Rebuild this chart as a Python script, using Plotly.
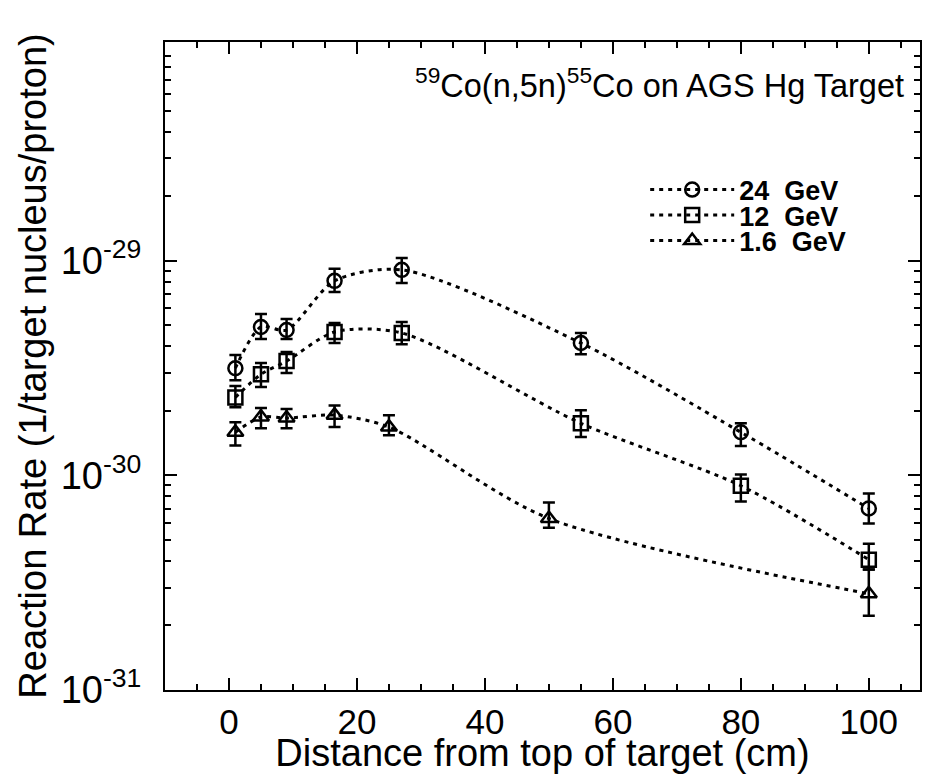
import plotly.graph_objects as go

# ---- data ----
x_24 = [1, 5, 9, 16.5, 27, 55, 80, 100]
y_24 = [3.16e-30, 4.92e-30, 4.76e-30, 8.07e-30, 9.08e-30, 4.14e-30, 1.59e-30, 7.01e-31]
hi_24 = [3.64e-30, 5.65e-30, 5.36e-30, 9.18e-30, 1.03e-29, 4.61e-30, 1.75e-30, 8.24e-31]
lo_24 = [2.78e-30, 4.32e-30, 4.32e-30, 7.16e-30, 7.89e-30, 3.67e-30, 1.37e-30, 5.97e-31]

x_12 = [1, 5, 9, 16.5, 27, 55, 80, 100]
y_12 = [2.31e-30, 2.96e-30, 3.41e-30, 4.66e-30, 4.61e-30, 1.75e-30, 8.95e-31, 4.05e-31]
hi_12 = [2.61e-30, 3.34e-30, 3.76e-30, 5.13e-30, 5.19e-30, 2.01e-30, 1.01e-30, 4.81e-31]
lo_12 = [2.08e-30, 2.58e-30, 3.00e-30, 4.14e-30, 4.09e-30, 1.51e-30, 7.56e-31, 3.64e-31]

x_16 = [1, 5, 9, 16.5, 25, 50, 100]
y_16 = [1.59e-30, 1.87e-30, 1.85e-30, 1.91e-30, 1.68e-30, 6.30e-31, 2.81e-31]
hi_16 = [1.77e-30, 2.06e-30, 2.04e-30, 2.12e-30, 1.91e-30, 7.48e-31, 3.64e-31]
lo_16 = [1.38e-30, 1.66e-30, 1.66e-30, 1.68e-30, 1.54e-30, 5.71e-31, 2.22e-31]

series = [
    ("<b>24\u00a0\u00a0GeV</b>", x_24, y_24, hi_24, lo_24, "circle-open", "legend"),
    ("<b>12\u00a0\u00a0GeV</b>", x_12, y_12, hi_12, lo_12, "square-open", "legend2"),
    ("<b>1.6\u00a0\u00a0GeV</b>", x_16, y_16, hi_16, lo_16, "triangle-up-open", "legend3"),
]

y_tickvals = [1e-31, 1e-30, 1e-29]
y_ticktext = ["10<sup>-31</sup>", "10<sup>-30</sup>", "10<sup>-29</sup>"]

FONT = "Liberation Sans, Arial, Helvetica, sans-serif"

fig = go.Figure()
for name, xs, ys, his, los, sym, lg in series:
    fig.add_trace(go.Scatter(
        x=xs, y=ys, name=name, mode="lines+markers", legend=lg,
        line=dict(color="black", width=3, dash="4px,5px", shape="spline", smoothing=0.8),
        marker=dict(symbol=sym, size=14, color="black", line=dict(width=2.5, color="black")),
        error_y=dict(type="data", symmetric=False,
                     array=[h - v for h, v in zip(his, ys)],
                     arrayminus=[v - l for v, l in zip(ys, los)],
                     color="black", thickness=2.5, width=6),
    ))

minor_y = [k * 10.0 ** e for e in (-31, -30, -29, -28) for k in range(2, 10)]

legend_common = dict(font=dict(family=FONT, size=27, color="black"),
                     bgcolor="rgba(0,0,0,0)", borderwidth=0, itemwidth=84,
                     xanchor="left", yanchor="middle", x=0.636)

fig.update_layout(
    template="none",
    width=925, height=774,
    margin=dict(l=165, r=5, t=42, b=84, autoexpand=False),
    paper_bgcolor="white", plot_bgcolor="white",
    font=dict(family=FONT, color="black"),
    showlegend=True,
    legend=dict(**legend_common, y=(690 - 190) / 648),
    legend2=dict(**legend_common, y=(690 - 215.5) / 648),
    legend3=dict(**legend_common, y=(690 - 241) / 648),
    xaxis=dict(
        range=[-10, 108], showgrid=False, zeroline=False, automargin=False,
        showline=True, linecolor="black", linewidth=2, mirror="ticks",
        ticks="inside", ticklen=12, tickwidth=2, tickcolor="black",
        tickmode="linear", tick0=0, dtick=20,
        minor=dict(ticks="inside", ticklen=6, tickwidth=2, tickcolor="black", dtick=5, showgrid=False),
        tickfont=dict(family=FONT, size=35, color="black"),
        title=dict(text="Distance from top of target (cm)", font=dict(family=FONT, size=38, color="black"), standoff=6),
    ),
    yaxis=dict(
        type="log", range=[-31, -27.98], showgrid=False, zeroline=False, automargin=False,
        showline=True, linecolor="black", linewidth=2, mirror="ticks",
        ticks="inside", ticklen=12, tickwidth=2, tickcolor="black",
        tickmode="array", tickvals=y_tickvals, ticktext=y_ticktext,
        ticklabelstandoff=14,
        minor=dict(ticks="inside", ticklen=6, tickwidth=2, tickcolor="black", tickvals=minor_y, showgrid=False),
        tickfont=dict(family=FONT, size=38, color="black"),
        title=dict(text="Reaction Rate (1/target nucleus/proton)", font=dict(family=FONT, size=38, color="black"), standoff=2),
    ),
    annotations=[dict(
        text="<sup>59</sup>Co(n,5n)<sup>55</sup>Co on AGS Hg Target",
        xref="paper", yref="paper", x=(906 - 165) / 755, y=(690 - 83) / 648,
        xanchor="right", yanchor="middle", showarrow=False,
        font=dict(family=FONT, size=32.5, color="black"),
    )],
)

fig.write_html("out.html")
